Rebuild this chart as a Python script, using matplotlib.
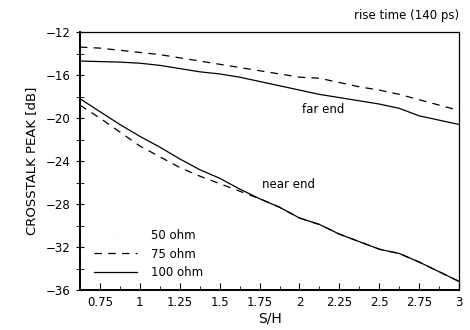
import numpy as np
import matplotlib
matplotlib.use('Agg')
from matplotlib import pyplot as plt
from matplotlib.ticker import MultipleLocator, FixedLocator

s_h = [0.625, 0.75, 0.875, 1.0, 1.125, 1.25, 1.375, 1.5, 1.625, 1.75,
       1.875, 2.0, 2.125, 2.25, 2.375, 2.5, 2.625, 2.75, 2.875, 3.0]

# far end crosstalk peak (dB)
far_50 = [-13.2, -13.3, -13.5, -13.7, -13.9, -14.2, -14.5, -14.8, -15.1, -15.4,
          -15.7, -16.0, -16.3, -16.6, -17.0, -17.4, -17.8, -18.2, -18.6, -19.0]
far_75 = [-13.4, -13.5, -13.7, -13.9, -14.1, -14.4, -14.7, -15.0, -15.3, -15.6,
          -15.9, -16.2, -16.3, -16.7, -17.1, -17.4, -17.8, -18.3, -18.8, -19.3]
far_100 = [-14.7, -14.75, -14.8, -14.9, -15.1, -15.4, -15.7, -15.9, -16.2, -16.6,
           -17.0, -17.4, -17.8, -18.1, -18.4, -18.7, -19.1, -19.8, -20.2, -20.6]

# near end crosstalk peak (dB)
near_50 = [-19.0, -20.2, -21.5, -22.8, -23.8, -24.8, -25.6, -26.3, -26.9, -27.6,
           -28.4, -29.3, -29.9, -30.8, -31.5, -32.2, -32.6, -33.4, -34.3, -35.2]
near_75 = [-18.8, -20.0, -21.3, -22.6, -23.6, -24.6, -25.4, -26.1, -26.8, -27.5,
           -28.3, -29.3, -29.9, -30.8, -31.5, -32.2, -32.6, -33.4, -34.3, -35.2]
near_100 = [-18.2, -19.4, -20.6, -21.7, -22.7, -23.8, -24.8, -25.6, -26.6, -27.5,
            -28.3, -29.3, -29.9, -30.8, -31.5, -32.2, -32.6, -33.4, -34.3, -35.2]

x_ticks = [0.75, 1, 1.25, 1.5, 1.75, 2, 2.25, 2.5, 2.75, 3]
x_labels = ['0.75', '1', '1.25', '1.5', '1.75', '2', '2.25', '2.5', '2.75', '3']
y_ticks = [-36, -32, -28, -24, -20, -16, -12]

plt.rcParams['font.family'] = 'DejaVu Sans'
fig = plt.figure(figsize=(4.7, 3.3), dpi=100)
ax = fig.add_axes([0.170, 0.121, 0.807, 0.782])

faint = dict(color='#e4e4e4', lw=0.6, linestyle=(0, (1, 6)))
ax.plot(s_h, far_50, label='50 ohm', **faint)
ax.plot(s_h, near_50, **faint)
ax.plot(s_h, far_75, color='k', lw=0.9, linestyle=(0, (6, 5)), label='75 ohm')
ax.plot(s_h, near_75, color='k', lw=0.9, linestyle=(0, (6, 5)))
ax.plot(s_h, far_100, color='k', lw=0.9, label='100 ohm')
ax.plot(s_h, near_100, color='k', lw=0.9)

ax.set_xlim(0.625, 3)
ax.set_ylim(-36, -12)
ax.xaxis.set_major_locator(FixedLocator(x_ticks))
ax.set_xticklabels(x_labels)
ax.xaxis.set_minor_locator(MultipleLocator(0.125))
ax.set_yticks(y_ticks)
ax.set_yticklabels(['\u2212' + str(abs(v)) for v in y_ticks])
ax.yaxis.set_minor_locator(MultipleLocator(2))

ax.tick_params(axis='x', which='both', direction='in', labelsize=8.5, pad=4)
ax.tick_params(axis='x', which='major', length=5)
ax.tick_params(axis='x', which='minor', length=3)
ax.tick_params(axis='y', which='both', direction='inout', labelsize=8.5, length=6)
for side in ['left', 'bottom']:
    ax.spines[side].set_linewidth(1.4)
for side in ['top', 'right']:
    ax.spines[side].set_linewidth(0.9)

ax.set_xlabel('S/H', fontsize=10, labelpad=2)
ax.set_ylabel('CROSSTALK PEAK [dB]', fontsize=9.5, labelpad=6)

ax.text(1.0, 1.04, 'rise time (140 ps)', transform=ax.transAxes,
        ha='right', va='bottom', fontsize=8.5)
ax.text(2.15, -19.2, 'far end', fontsize=8.5, ha='center', va='center')
ax.text(1.93, -26.2, 'near end', fontsize=8.5, ha='center', va='center')

ax.legend(loc='lower left', bbox_to_anchor=(0.01, 0.0), frameon=False,
          fontsize=8.5, handlelength=3.6, handletextpad=1.2, labelspacing=0.5)

fig.savefig('out.png', dpi=100)
